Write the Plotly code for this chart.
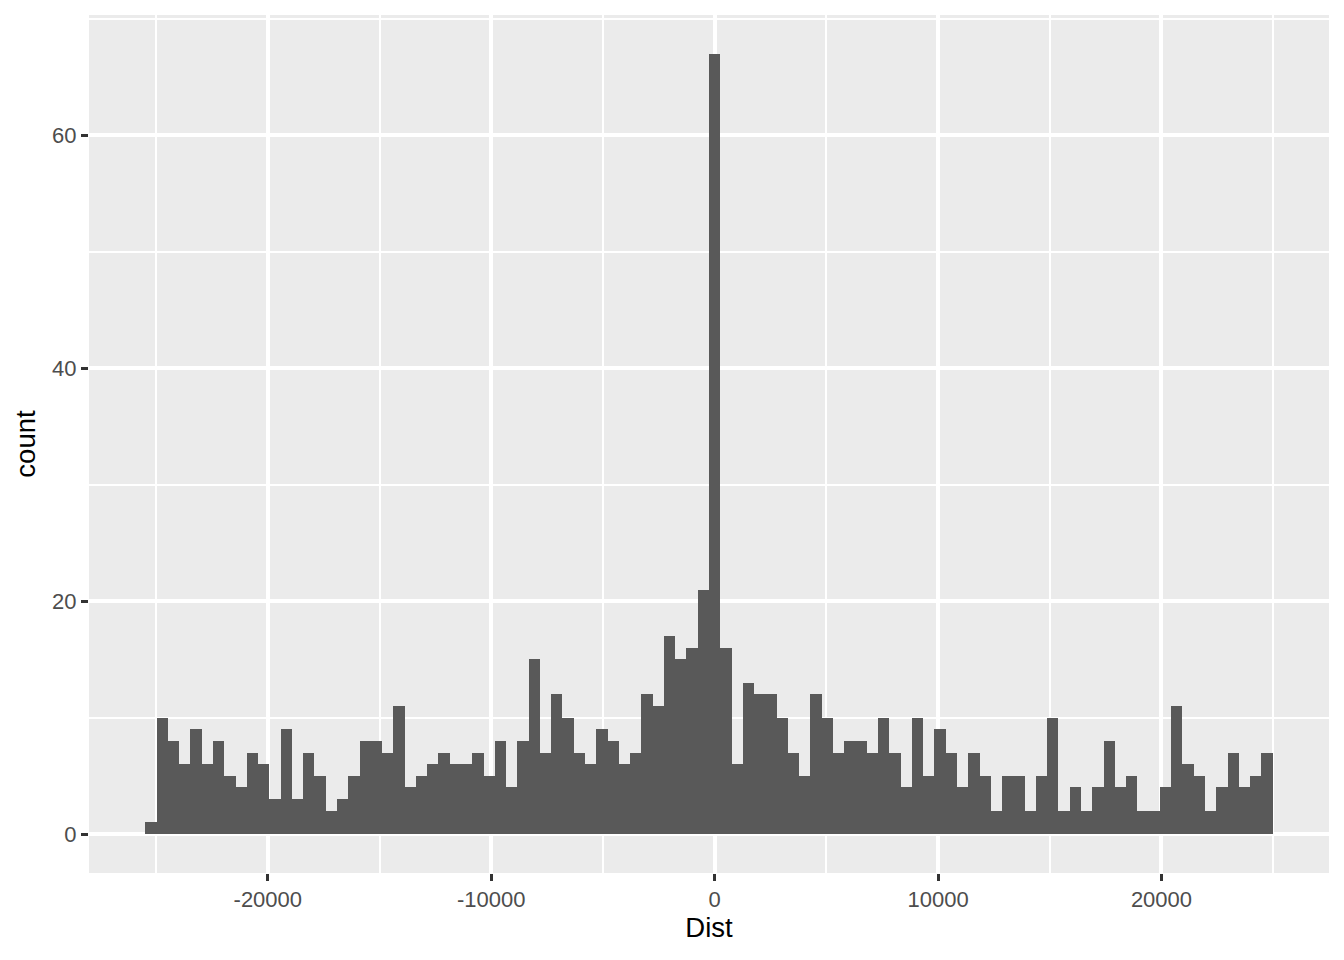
import plotly.graph_objects as go

# Histogram data (100 bins)
bin_start = -25480.0
bin_width = 504.55
counts = [
    1, 10, 8, 6, 9, 6, 8, 5, 4, 7, 6, 3, 9, 3, 7, 5, 2, 3, 5, 8, 8, 7, 11, 4, 5,
    6, 7, 6, 6, 7, 5, 8, 4, 8, 15, 7, 12, 10, 7, 6, 9, 8, 6, 7, 12, 11, 17, 15, 16, 21,
    67, 16, 6, 13, 12, 12, 10, 7, 5, 12, 10, 7, 8, 8, 7, 10, 7, 4, 10, 5, 9, 7, 4, 7, 5,
    2, 5, 5, 2, 5, 10, 2, 4, 2, 4, 8, 4, 5, 2, 2, 4, 11, 6, 5, 2, 4, 7, 4, 5, 7,
]
x_ticks = [-20000, -10000, 0, 10000, 20000]
x_tick_labels = ["-20000", "-10000", "0", "10000", "20000"]
y_ticks = [0, 20, 40, 60]
y_tick_labels = ["0", "20", "40", "60"]

centers = [bin_start + (i + 0.5) * bin_width for i in range(len(counts))]
x_min = bin_start
x_max = bin_start + bin_width * len(counts)
x_pad = 0.05 * (x_max - x_min)
y_pad = 0.05 * max(counts)

FONT = "Liberation Sans, Arial, Helvetica, sans-serif"

fig = go.Figure(
    go.Bar(
        x=centers,
        y=counts,
        width=bin_width,
        marker=dict(color="#595959", line=dict(width=0)),
        hoverinfo="x+y",
    )
)

fig.update_layout(
    width=1328,
    height=944,
    margin=dict(l=81, r=7, t=7, b=79),
    paper_bgcolor="white",
    plot_bgcolor="#EBEBEB",
    bargap=0,
    showlegend=False,
    font=dict(family=FONT),
)

fig.update_xaxes(
    range=[x_min - x_pad, x_max + x_pad],
    tickmode="array",
    tickvals=x_ticks,
    ticktext=x_tick_labels,
    tickfont=dict(size=22, color="#4D4D4D", family=FONT),
    ticks="outside",
    ticklen=7,
    tickwidth=3,
    tickcolor="#333333",
    showgrid=True,
    gridcolor="white",
    gridwidth=3.5,
    minor=dict(tickmode="array", tickvals=[-25000, -15000, -5000, 5000, 15000, 25000],
               showgrid=True, gridcolor="white", gridwidth=1.8, ticks=""),
    zeroline=False,
    showline=False,
    title=dict(text="Dist", font=dict(size=27.5, color="black", family=FONT), standoff=6),
)

fig.update_yaxes(
    range=[-y_pad, max(counts) + y_pad],
    tickmode="array",
    tickvals=y_ticks,
    ticktext=y_tick_labels,
    tickfont=dict(size=22, color="#4D4D4D", family=FONT),
    ticks="outside",
    ticklen=7,
    tickwidth=3,
    tickcolor="#333333",
    showgrid=True,
    gridcolor="white",
    gridwidth=3.5,
    minor=dict(tickmode="array", tickvals=[10, 30, 50, 70],
               showgrid=True, gridcolor="white", gridwidth=1.8, ticks=""),
    zeroline=False,
    showline=False,
    title=dict(text="count", font=dict(size=27.5, color="black", family=FONT), standoff=8),
)

fig.write_html("out.html")
